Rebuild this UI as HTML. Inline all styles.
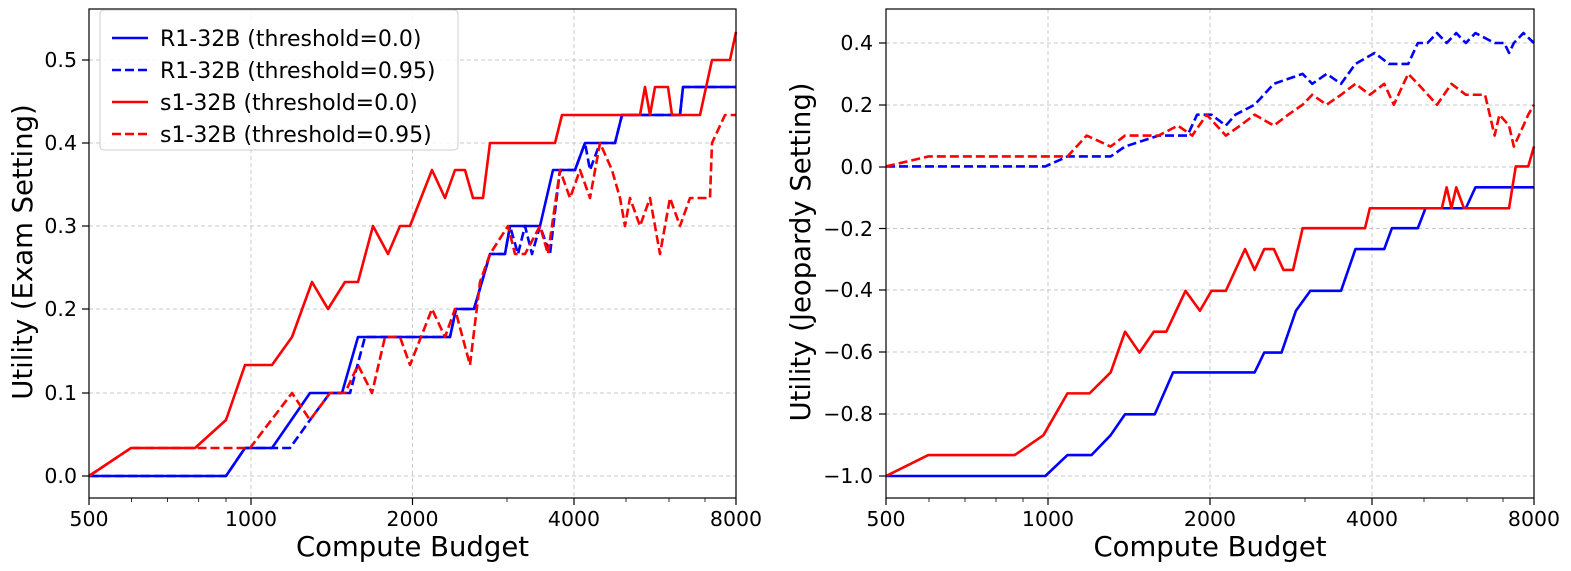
<!DOCTYPE html>
<html><head><meta charset="utf-8"><style>body{margin:0;background:#fff}svg{display:block;font-family:"DejaVu Sans","Liberation Sans",sans-serif}</style></head><body>
<svg width="1571" height="571" viewBox="0 0 1571 571" xmlns="http://www.w3.org/2000/svg">
<g stroke="#c8c8c8" stroke-width="1" stroke-dasharray="4,3">
<line x1="251" y1="9" x2="251" y2="498"/><line x1="412.5" y1="9" x2="412.5" y2="498"/><line x1="574" y1="9" x2="574" y2="498"/>
<line x1="89" y1="476" x2="736" y2="476"/><line x1="89" y1="393" x2="736" y2="393"/><line x1="89" y1="309" x2="736" y2="309"/><line x1="89" y1="226" x2="736" y2="226"/><line x1="89" y1="143" x2="736" y2="143"/><line x1="89" y1="60" x2="736" y2="60"/>
<line x1="1048" y1="9" x2="1048" y2="498"/><line x1="1210" y1="9" x2="1210" y2="498"/><line x1="1372" y1="9" x2="1372" y2="498"/>
<line x1="886" y1="476" x2="1534" y2="476"/><line x1="886" y1="414" x2="1534" y2="414"/><line x1="886" y1="352" x2="1534" y2="352"/><line x1="886" y1="290" x2="1534" y2="290"/><line x1="886" y1="228.5" x2="1534" y2="228.5"/><line x1="886" y1="167" x2="1534" y2="167"/><line x1="886" y1="105" x2="1534" y2="105"/><line x1="886" y1="43" x2="1534" y2="43"/>
</g>
<g fill="none" stroke-width="2.6" stroke-linejoin="round">
<polyline stroke="#0000ff" points="89,476 226,476 245,448 272,448 310,393 342,393 358,337 450,337 456,309 474,309 490,254 505,254 510,226 540,226 553,170 575,170 585,143 615,143 622,115 680,115 683,87 736,87"/>
<polyline stroke="#0000ff" stroke-dasharray="9,4" points="89,476 226,476 245,448 290,448 310,420 330,393 350,393 365,337 450,337 456,309 474,309 490,254 505,254 510,226 518,254 525,226 532,254 540,226 550,254 560,170 575,170 585,143 590,170 600,143 615,143 622,115 680,115 683,87 736,87"/>
<polyline stroke="#ff0000" points="89,476 131,448 195,448 226,420 245,365 272,365 292,337 312,282 328,309 345,282 358,282 373,226 388,254 400,226 410,226 432,170 445,198 455,170 465,170 473,198 483,198 490,143 555,143 562,115 640,115 645,87 650,115 655,87 668,87 672,115 700,115 712,60 730,60 736,32"/>
<polyline stroke="#ff0000" stroke-dasharray="9,4" points="89,476 131,448 226,448 250,448 292,393 310,420 330,393 345,393 358,365 372,393 385,337 400,337 410,365 432,309 445,337 455,309 470,365 480,282 490,254 508,226 515,254 525,254 540,226 548,254 560,170 570,198 580,170 590,198 600,143 612,170 620,198 625,226 630,198 640,226 650,198 660,254 670,198 680,226 690,198 710,198 712,143 725,115 736,115"/>
<g transform="matrix(0.96 0 0 0.9954 64.24 2.19)">
<polyline vector-effect="non-scaling-stroke" stroke="#0000ff" points="856,476 1022,476 1045,455 1070,455 1090,435 1105,414 1136,414 1155,372 1240,372 1250,352 1268,352 1283,310 1298,290 1330,290 1345,248 1375,248 1383,227 1410,227 1418,207 1460,207 1470,186 1531,186"/>
<polyline vector-effect="non-scaling-stroke" stroke="#ff0000" points="856,476 900,455 990,455 1020,435 1045,393 1068,393 1090,372 1105,331 1120,352 1135,331 1148,331 1168,290 1183,310 1195,290 1210,290 1230,248 1240,269 1250,248 1260,248 1270,269 1280,269 1290,227 1355,227 1360,207 1435,207 1440,186 1445,207 1450,186 1458,207 1470,207 1505,207 1512,165 1525,165 1531,145"/>
<polyline vector-effect="non-scaling-stroke" stroke="#0000ff" stroke-dasharray="9,4" points="856,165 1022,165 1045,155 1090,155 1105,145 1140,134 1170,134 1180,113 1195,113 1210,124 1220,113 1240,103 1260,82 1290,72 1300,82 1315,72 1330,82 1345,62 1365,51 1380,62 1400,62 1410,41 1420,41 1430,31 1440,41 1450,31 1460,41 1470,31 1490,41 1500,41 1505,51 1510,41 1520,31 1531,41"/>
<polyline vector-effect="non-scaling-stroke" stroke="#ff0000" stroke-dasharray="9,4" points="856,165 900,155 1022,155 1045,155 1065,134 1090,145 1105,134 1140,134 1160,124 1175,134 1190,113 1210,134 1225,124 1240,113 1260,124 1275,113 1290,103 1300,93 1315,103 1330,93 1345,82 1360,93 1375,82 1385,103 1395,82 1400,72 1410,82 1430,103 1445,82 1460,93 1480,93 1490,134 1495,113 1505,124 1510,145 1520,124 1525,113 1531,103"/>
</g>
</g>
<g fill="none" stroke="#000" stroke-width="1.2">
<rect x="89" y="9" width="647" height="489"/><rect x="886" y="9" width="648" height="489"/>
</g>
<g stroke="#000" stroke-width="1.2">
<line x1="89" y1="498" x2="89" y2="505"/><line x1="251" y1="498" x2="251" y2="505"/><line x1="412.5" y1="498" x2="412.5" y2="505"/><line x1="574" y1="498" x2="574" y2="505"/><line x1="736" y1="498" x2="736" y2="505"/>
<line x1="82" y1="476" x2="89" y2="476"/><line x1="82" y1="393" x2="89" y2="393"/><line x1="82" y1="309" x2="89" y2="309"/><line x1="82" y1="226" x2="89" y2="226"/><line x1="82" y1="143" x2="89" y2="143"/><line x1="82" y1="60" x2="89" y2="60"/>
<line x1="886" y1="498" x2="886" y2="505"/><line x1="1048" y1="498" x2="1048" y2="505"/><line x1="1210" y1="498" x2="1210" y2="505"/><line x1="1372" y1="498" x2="1372" y2="505"/><line x1="1534" y1="498" x2="1534" y2="505"/>
<line x1="879" y1="476" x2="886" y2="476"/><line x1="879" y1="414" x2="886" y2="414"/><line x1="879" y1="352" x2="886" y2="352"/><line x1="879" y1="290" x2="886" y2="290"/><line x1="879" y1="228.5" x2="886" y2="228.5"/><line x1="879" y1="167" x2="886" y2="167"/><line x1="879" y1="105" x2="886" y2="105"/><line x1="879" y1="43" x2="886" y2="43"/>
</g>
<g stroke="#000" stroke-width="0.8">
<line x1="131.5" y1="498" x2="131.5" y2="502"/><line x1="167.5" y1="498" x2="167.5" y2="502"/><line x1="198.7" y1="498" x2="198.7" y2="502"/><line x1="226" y1="498" x2="226" y2="502"/><line x1="507" y1="498" x2="507" y2="502"/><line x1="626" y1="498" x2="626" y2="502"/><line x1="669" y1="498" x2="669" y2="502"/><line x1="705" y1="498" x2="705" y2="502"/>
<line x1="929" y1="498" x2="929" y2="502"/><line x1="965" y1="498" x2="965" y2="502"/><line x1="996" y1="498" x2="996" y2="502"/><line x1="1023" y1="498" x2="1023" y2="502"/><line x1="1305" y1="498" x2="1305" y2="502"/><line x1="1424" y1="498" x2="1424" y2="502"/><line x1="1467" y1="498" x2="1467" y2="502"/><line x1="1503" y1="498" x2="1503" y2="502"/>
</g>
<g font-size="20.5" fill="#000">
<g text-anchor="middle">
<text x="89" y="526">500</text><text x="251" y="526">1000</text><text x="412.5" y="526">2000</text><text x="574" y="526">4000</text><text x="736" y="526">8000</text>
<text x="886" y="526">500</text><text x="1048" y="526">1000</text><text x="1210" y="526">2000</text><text x="1372" y="526">4000</text><text x="1534" y="526">8000</text>
</g>
<g text-anchor="end">
<text x="77" y="483">0.0</text><text x="77" y="400">0.1</text><text x="77" y="316">0.2</text><text x="77" y="233">0.3</text><text x="77" y="150">0.4</text><text x="77" y="67">0.5</text>
<text x="873" y="483">−1.0</text><text x="873" y="421">−0.8</text><text x="873" y="359">−0.6</text><text x="873" y="297">−0.4</text><text x="873" y="236">−0.2</text><text x="873" y="174">0.0</text><text x="873" y="112">0.2</text><text x="873" y="50">0.4</text>
</g>
</g>
<g font-size="27.5" fill="#000" text-anchor="middle">
<text x="412.5" y="556">Compute Budget</text><text x="1210" y="556">Compute Budget</text>
<text transform="translate(32,252) rotate(-90)">Utility (Exam Setting)</text>
<text transform="translate(810,252) rotate(-90)">Utility (Jeopardy Setting)</text>
</g>
<rect x="100" y="10" width="358" height="140" rx="4" fill="#fff" fill-opacity="0.85" stroke="#ccc"/>
<g stroke-width="2.6">
<line x1="112" y1="38" x2="148" y2="38" stroke="#0000ff"/>
<line x1="112" y1="70" x2="148" y2="70" stroke="#0000ff" stroke-dasharray="9,4"/>
<line x1="112" y1="102" x2="148" y2="102" stroke="#ff0000"/>
<line x1="112" y1="134" x2="148" y2="134" stroke="#ff0000" stroke-dasharray="9,4"/>
</g>
<g font-size="22" fill="#000">
<text x="160" y="46">R1-32B (threshold=0.0)</text>
<text x="160" y="78">R1-32B (threshold=0.95)</text>
<text x="160" y="110">s1-32B (threshold=0.0)</text>
<text x="160" y="142">s1-32B (threshold=0.95)</text>
</g>
</svg>
</body></html>
